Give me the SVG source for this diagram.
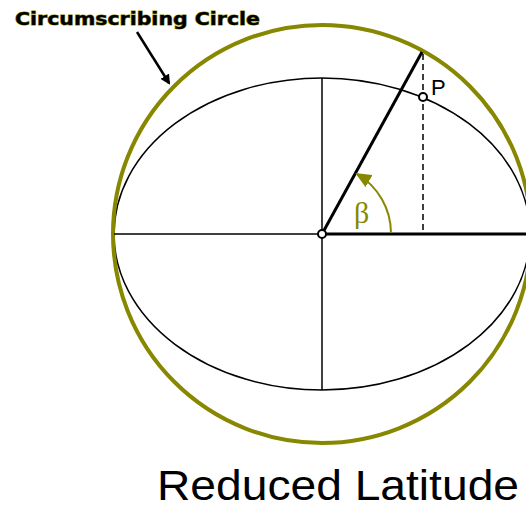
<svg xmlns="http://www.w3.org/2000/svg" width="526" height="508" viewBox="0 0 526 508">
<style>
.thin{stroke:#000;stroke-width:1.5;fill:none}
.thick{stroke:#000;stroke-width:3;fill:none}
.olive{stroke:#878700;fill:none}
</style>
<defs>
<marker id="ah" markerWidth="10" markerHeight="10" refX="8" refY="5" orient="auto" markerUnits="userSpaceOnUse">
<path d="M0,0 L10,5 L0,10 Z" fill="#000"/>
</marker>
<marker id="oh" markerWidth="16" markerHeight="14" refX="14" refY="7" orient="auto" markerUnits="userSpaceOnUse">
<path d="M0,0 L16,7 L0,14 Z" fill="#878700"/>
</marker>
</defs>
<rect width="526" height="508" fill="#fff"/>
<g id="ellipse"><ellipse cx="322" cy="234" rx="208" ry="156" class="thin"/></g>
<g id="circle"><circle cx="322" cy="234" r="209" class="olive" stroke-width="4"/></g>
<g id="connectors">
<line x1="114" y1="234" x2="322" y2="234" class="thin"/>
<line x1="322" y1="78" x2="322" y2="390" class="thin"/>
<line x1="322" y1="234" x2="526" y2="234" class="thick"/>
<line x1="322" y1="234" x2="422" y2="52" class="thick"/>
<line x1="423" y1="54" x2="423" y2="234" stroke="#000" stroke-width="1.5" stroke-dasharray="6,4"/>
<line x1="137" y1="32" x2="169" y2="83" stroke="#000" stroke-width="2.5" marker-end="url(#ah)"/>
<path d="M391,233 A69,69 0 0 0 357,174" class="olive" stroke-width="2" marker-end="url(#oh)"/>
</g>
<g id="center"><circle cx="322" cy="234" r="4" fill="#fff" stroke="#000" stroke-width="2"/></g>
<g id="P"><circle cx="423" cy="97" r="4" fill="#fff" stroke="#000" stroke-width="2"/>
<text x="431" y="95" font-family="Liberation Sans, Arial, sans-serif" font-size="22" fill="#000">P</text></g>
<g id="beta"><text x="354" y="223" font-family="Liberation Serif, Times New Roman, serif" font-size="30" fill="#878700">β</text></g>
<g id="label"><text x="15" y="25" font-family="DejaVu Sans, sans-serif" font-weight="bold" font-size="18" textLength="245" lengthAdjust="spacingAndGlyphs" fill="#000" stroke="#878700" stroke-width="1" paint-order="stroke">Circumscribing Circle</text></g>
<g id="title"><text x="157" y="500" font-family="Liberation Sans, Arial, sans-serif" font-size="43" textLength="362" lengthAdjust="spacingAndGlyphs" fill="#000">Reduced Latitude</text></g>
</svg>
